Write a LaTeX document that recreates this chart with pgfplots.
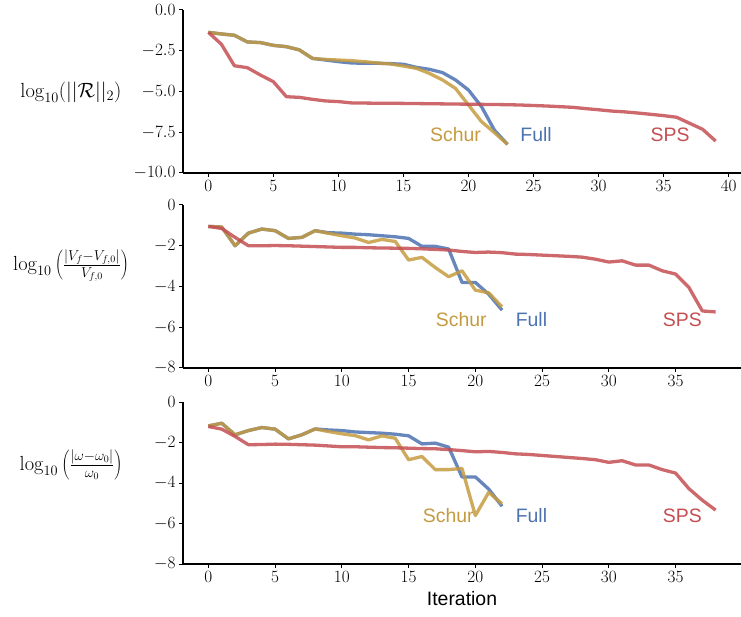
\documentclass[border=0pt]{standalone}
\usepackage{fontspec}
\usepackage{pgfplots}
\pgfplotsset{compat=1.18}
\newfontfamily\lsans{Liberation Sans}
\definecolor{cfull}{HTML}{4C72B0}
\definecolor{cschur}{HTML}{C49B40}
\definecolor{csps}{HTML}{C44E52}

\pgfplotstableread{
it v
0 -1.37
1 -1.47
2 -1.55
3 -1.96
4 -2.00
5 -2.17
6 -2.25
7 -2.45
8 -2.97
9 -3.07
10 -3.17
11 -3.25
12 -3.27
13 -3.27
14 -3.29
15 -3.33
16 -3.52
17 -3.64
18 -3.84
19 -4.29
20 -4.91
21 -5.93
22 -7.38
23 -8.24
}\topfull
\pgfplotstableread{
it v
0 -1.37
1 -1.47
2 -1.55
3 -1.96
4 -2.00
5 -2.17
6 -2.25
7 -2.45
8 -2.97
9 -3.03
10 -3.07
11 -3.11
12 -3.17
13 -3.25
14 -3.31
15 -3.44
16 -3.58
17 -3.89
18 -4.29
19 -4.81
20 -5.83
21 -6.85
22 -7.53
23 -8.24
}\topschur
\pgfplotstableread{
it v
0 -1.37
1 -2.10
2 -3.42
3 -3.54
4 -3.99
5 -4.40
6 -5.32
7 -5.36
8 -5.48
9 -5.58
10 -5.62
11 -5.70
12 -5.71
13 -5.72
14 -5.72
15 -5.73
16 -5.74
17 -5.75
18 -5.76
19 -5.77
20 -5.78
21 -5.79
22 -5.80
23 -5.81
24 -5.83
25 -5.86
26 -5.89
27 -5.93
28 -5.97
29 -6.05
30 -6.12
31 -6.20
32 -6.25
33 -6.32
34 -6.40
35 -6.48
36 -6.58
37 -6.95
38 -7.32
39 -8.04
}\topsps

\pgfplotstableread{
it v
0 -1.05
1 -1.08
2 -2.00
3 -1.38
4 -1.18
5 -1.26
6 -1.64
7 -1.59
8 -1.26
9 -1.36
10 -1.38
11 -1.43
12 -1.46
13 -1.51
14 -1.56
15 -1.64
16 -2.03
17 -2.03
18 -2.16
19 -3.80
20 -3.80
21 -4.38
22 -5.16
}\midfull
\pgfplotstableread{
it v
0 -1.05
1 -1.08
2 -2.00
3 -1.38
4 -1.18
5 -1.26
6 -1.64
7 -1.59
8 -1.26
9 -1.39
10 -1.51
11 -1.62
12 -1.84
13 -1.69
14 -1.79
15 -2.70
16 -2.57
17 -3.07
18 -3.52
19 -3.23
20 -4.18
21 -4.31
22 -5.00
}\midschur
\pgfplotstableread{
it v
0 -1.05
1 -1.15
2 -1.59
3 -2.00
4 -2.00
5 -1.99
6 -2.00
7 -2.02
8 -2.04
9 -2.06
10 -2.08
11 -2.08
12 -2.10
13 -2.11
14 -2.12
15 -2.13
16 -2.15
17 -2.18
18 -2.21
19 -2.28
20 -2.33
21 -2.31
22 -2.34
23 -2.41
24 -2.43
25 -2.46
26 -2.49
27 -2.52
28 -2.56
29 -2.66
30 -2.80
31 -2.74
32 -2.95
33 -2.95
34 -3.23
35 -3.39
36 -4.05
37 -5.20
38 -5.25
}\midsps

\pgfplotstableread{
it v
0 -1.18
1 -1.05
2 -1.62
3 -1.41
4 -1.26
5 -1.34
6 -1.82
7 -1.62
8 -1.33
9 -1.38
10 -1.41
11 -1.48
12 -1.51
13 -1.54
14 -1.59
15 -1.67
16 -2.07
17 -2.03
18 -2.23
19 -3.70
20 -3.70
21 -4.30
22 -5.15
}\botfull
\pgfplotstableread{
it v
0 -1.18
1 -1.05
2 -1.62
3 -1.41
4 -1.26
5 -1.34
6 -1.82
7 -1.62
8 -1.33
9 -1.46
10 -1.57
11 -1.66
12 -1.87
13 -1.67
14 -1.79
15 -2.85
16 -2.69
17 -3.34
18 -3.34
19 -3.28
20 -5.61
21 -4.46
22 -5.03
}\botschur
\pgfplotstableread{
it v
0 -1.21
1 -1.34
2 -1.70
3 -2.11
4 -2.10
5 -2.08
6 -2.09
7 -2.11
8 -2.13
9 -2.17
10 -2.21
11 -2.21
12 -2.23
13 -2.25
14 -2.26
15 -2.28
16 -2.30
17 -2.31
18 -2.35
19 -2.40
20 -2.46
21 -2.44
22 -2.49
23 -2.56
24 -2.59
25 -2.64
26 -2.69
27 -2.74
28 -2.79
29 -2.85
30 -2.98
31 -2.90
32 -3.11
33 -3.11
34 -3.34
35 -3.51
36 -4.28
37 -4.85
38 -5.34
}\botsps

\pgfplotsset{
  panel/.style={
    scale only axis, width=558bp,
    axis x line*=bottom, axis y line*=left,
    axis line style={line width=1.1bp, black},
    tick align=outside, major tick length=4bp,
    tick style={line width=1bp, black},
    ticklabel style={font=\fontsize{19}{21}\selectfont},
    xtick={0,5,...,40},
    anchor=south west,
  },
}
\tikzset{
  ln/.style={line width=3.3bp, opacity=0.85, line join=round},
  lab/.style={font=\lsans\fontsize{19.5}{22}\selectfont},
}

\begin{document}
\begin{tikzpicture}
% top panel
\begin{axis}[panel, at={(183bp,444bp)}, height=163bp,
  xmin=-1.95, xmax=40.95, ymin=-10, ymax=0,
  ytick={0,-2.5,-5,-7.5,-10},
  yticklabel style={/pgf/number format/.cd, fixed, fixed zerofill, precision=1}]
\addplot[ln, cfull] table[x=it,y=v]{\topfull};
\addplot[ln, cschur] table[x=it,y=v]{\topschur};
\addplot[ln, csps] table[x=it,y=v]{\topsps};
\node[lab, text=cschur] at (axis cs:19.0,-7.64) {Schur};
\node[lab, text=cfull] at (axis cs:25.2,-7.64) {Full};
\node[lab, text=csps] at (axis cs:35.5,-7.64) {SPS};
\end{axis}
% middle panel
\begin{axis}[panel, at={(183bp,249bp)}, height=163bp,
  xmin=-1.9, xmax=39.9, ymin=-8, ymax=0,
  ytick={0,-2,-4,-6,-8}]
\addplot[ln, cfull] table[x=it,y=v]{\midfull};
\addplot[ln, cschur] table[x=it,y=v]{\midschur};
\addplot[ln, csps] table[x=it,y=v]{\midsps};
\node[lab, text=cschur] at (axis cs:18.94,-5.64) {Schur};
\node[lab, text=cfull] at (axis cs:24.2,-5.64) {Full};
\node[lab, text=csps] at (axis cs:35.5,-5.64) {SPS};
\end{axis}
% bottom panel
\begin{axis}[panel, at={(183bp,53bp)}, height=162bp,
  xmin=-1.9, xmax=39.9, ymin=-8, ymax=0,
  ytick={0,-2,-4,-6,-8},
  xlabel={Iteration},
  xlabel style={font=\lsans\fontsize{19.5}{22}\selectfont, yshift=-2bp}]
\addplot[ln, cfull] table[x=it,y=v]{\botfull};
\addplot[ln, cschur] table[x=it,y=v]{\botschur};
\addplot[ln, csps] table[x=it,y=v]{\botsps};
\node[lab, text=cschur] at (axis cs:17.97,-5.61) {Schur};
\node[lab, text=cfull] at (axis cs:24.2,-5.61) {Full};
\node[lab, text=csps] at (axis cs:35.5,-5.61) {SPS};
\end{axis}
\node[font=\fontsize{20.5}{22}\selectfont] at (71bp,525bp) {$\log_{10}(||\mathcal{R}||_2)$};
\node[font=\fontsize{20.5}{22}\selectfont] at (71bp,351bp) {$\log_{10}\left(\frac{|V_f-V_{f,0}|}{V_{f,0}}\right)$};
\node[font=\fontsize{20.5}{22}\selectfont] at (71bp,152bp) {$\log_{10}\left(\frac{|\omega-\omega_0|}{\omega_0}\right)$};
\pgfresetboundingbox
\path[use as bounding box] (0,0) rectangle (741bp,617bp);
\end{tikzpicture}
\end{document}
